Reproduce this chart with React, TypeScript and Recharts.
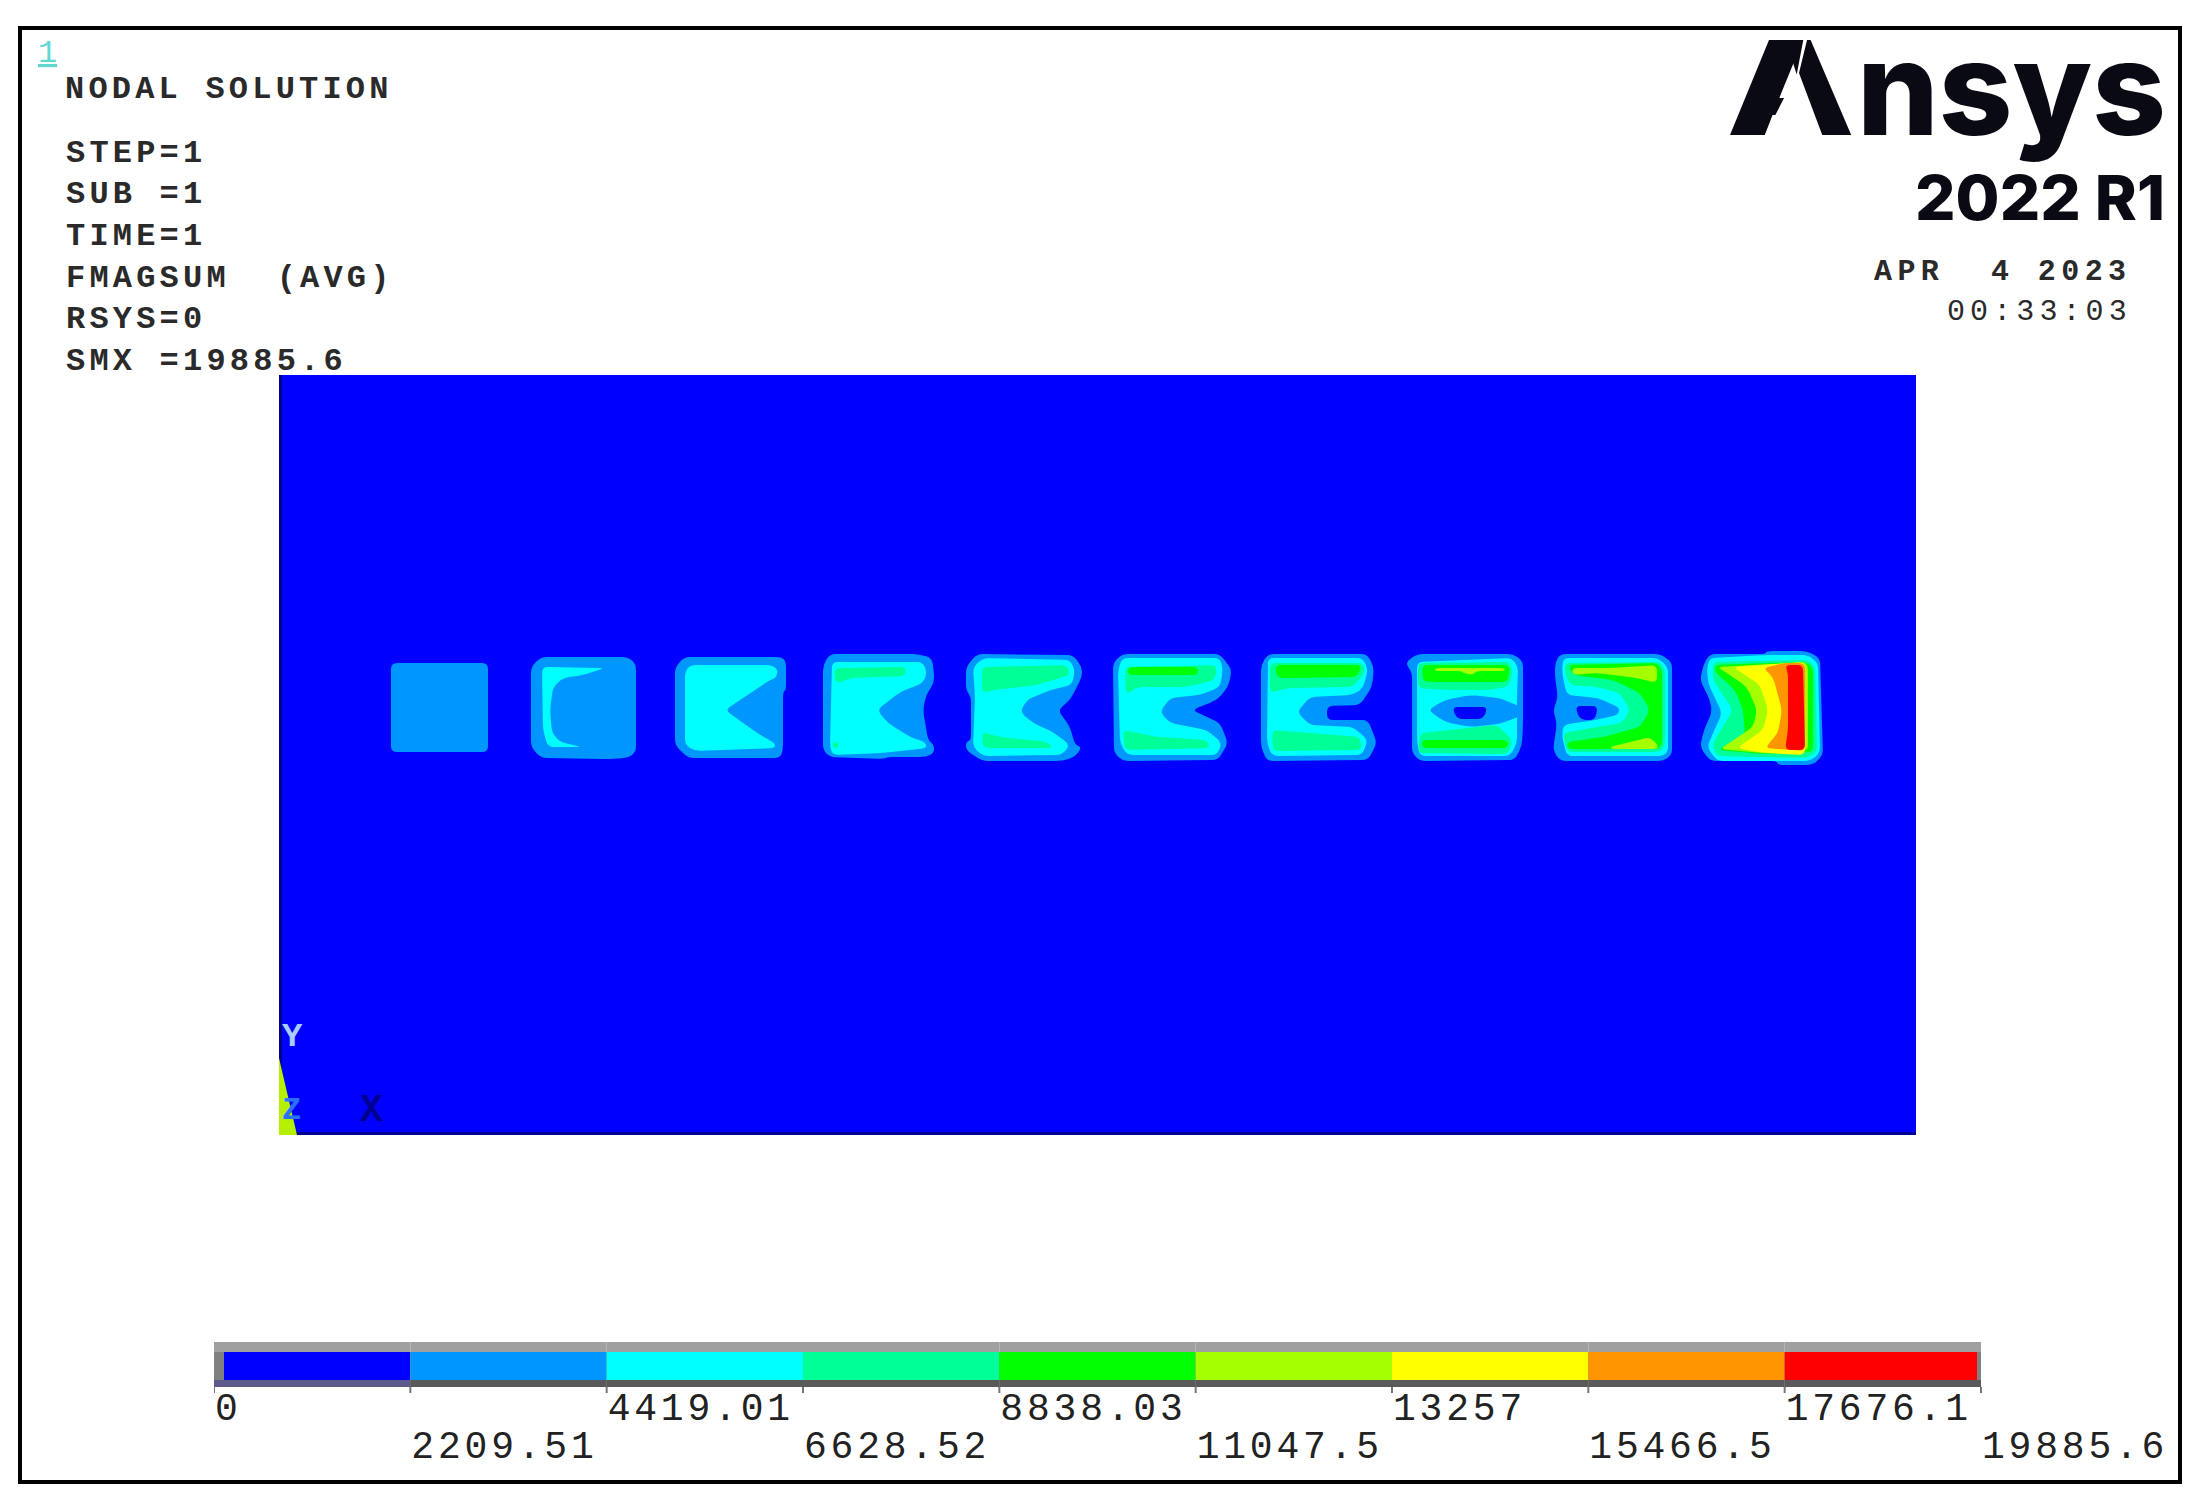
import { BarChart, Bar, XAxis, YAxis, ScatterChart, Scatter, ReferenceArea } from 'recharts';

type Pt = [number, number];
type Contour = { level: number; pts: Pt[] };

const LEVEL_COLORS = ['#0000ff', '#0096ff', '#00ffff', '#00ff96', '#00ff00', '#a6ff00', '#ffff00', '#ff9600', '#ff0000'];
const TICK_VALUES = [0, 2209.51, 4419.01, 6628.52, 8838.03, 11047.5, 13257, 15466.5, 17676.1, 19885.6];
const TICK_LABELS = ['0', '2209.51', '4419.01', '6628.52', '8838.03', '11047.5', '13257', '15466.5', '17676.1', '19885.6'];
const INFO_LINES = ['STEP=1', 'SUB =1', 'TIME=1', 'FMAGSUM  (AVG)', 'RSYS=0', 'SMX =19885.6'];

// plate outline and the contour bands, bottom band first
const PLATE_X = [279, 1916];
const PLATE_Y = [375, 1135];

const TRIAD: Pt[] = [[279, 1058], [297, 1135], [279, 1135]];

const BLOCK_1: Contour[] = [
    { level: 1, pts: [[391, 663], [488, 663], [488, 752], [391, 752]] },
];
const BLOCK_2: Contour[] = [
    { level: 1, pts: [[531, 667], [541, 657], [628, 657], [636, 664], [636, 752], [628, 758], [608, 759], [541, 758], [531, 747]] },
    { level: 2, pts: [[542, 667], [605, 668], [583, 675], [563, 678], [553, 687], [550, 710], [552, 733], [560, 742], [582, 747], [548, 747], [543, 730]] },
];
const BLOCK_3: Contour[] = [
    { level: 1, pts: [[675, 668], [684, 657], [782, 657], [786, 662], [786, 690], [783, 692], [783, 750], [780, 758], [688, 758], [675, 745]] },
    { level: 2, pts: [[685, 672], [690, 665], [772, 665], [778, 670], [776, 678], [770, 680], [725, 710], [760, 735], [775, 743], [775, 748], [695, 751], [685, 745]] },
];
const BLOCK_4: Contour[] = [
    { level: 1, pts: [[823, 665], [830, 654], [918, 654], [932, 658], [934, 673], [934, 683], [926, 695], [923, 710], [928, 740], [934, 745], [934, 753], [926, 757], [888, 757], [884, 759], [830, 757], [823, 750]] },
    { level: 2, pts: [[832, 662], [923, 662], [927, 673], [923, 683], [900, 692], [877, 710], [888, 723], [910, 737], [925, 742], [927, 748], [883, 753], [833, 755], [830, 747]] },
    { level: 3, pts: [[834, 668], [906, 667], [905, 676], [850, 678], [836, 684]] },
    { level: 3, pts: [[833, 742], [838, 742], [838, 748], [833, 748]] },
];
const BLOCK_5: Contour[] = [
    { level: 1, pts: [[977, 654], [1073, 655], [1082, 667], [1082, 677], [1070, 700], [1058, 710], [1070, 727], [1075, 745], [1082, 747], [1075, 757], [1062, 761], [982, 761], [966, 750], [966, 742], [971, 740], [971, 697], [966, 690], [966, 667]] },
    { level: 2, pts: [[983, 658], [1070, 660], [1075, 670], [1072, 685], [1050, 690], [1027, 700], [1020, 712], [1033, 723], [1053, 732], [1070, 745], [1062, 755], [983, 756], [973, 747], [975, 697], [973, 667]] },
    { level: 3, pts: [[982, 667], [1067, 665], [1070, 675], [1037, 685], [993, 690], [982, 693]] },
    { level: 3, pts: [[982, 732], [1000, 737], [1047, 742], [1053, 748], [983, 748]] },
];
const BLOCK_6: Contour[] = [
    { level: 1, pts: [[1113, 663], [1122, 654], [1220, 654], [1232, 670], [1228, 687], [1217, 700], [1192, 710], [1220, 723], [1228, 743], [1218, 760], [1123, 761], [1114, 753]] },
    { level: 2, pts: [[1122, 658], [1220, 658], [1223, 670], [1220, 687], [1200, 695], [1170, 698], [1160, 712], [1170, 723], [1207, 730], [1222, 743], [1217, 755], [1127, 755], [1120, 743], [1118, 670]] },
    { level: 3, pts: [[1125, 667], [1217, 665], [1215, 680], [1187, 687], [1137, 687], [1126, 695]] },
    { level: 3, pts: [[1123, 730], [1157, 737], [1207, 740], [1210, 748], [1125, 750]] },
    { level: 4, pts: [[1128, 667], [1198, 667], [1198, 675], [1128, 675]] },
];
const BLOCK_7: Contour[] = [
    { level: 1, pts: [[1261, 665], [1268, 654], [1367, 654], [1374, 667], [1372, 687], [1360, 705], [1327, 706], [1327, 720], [1368, 720], [1377, 743], [1368, 760], [1267, 761], [1261, 747]] },
    { level: 2, pts: [[1268, 658], [1363, 658], [1368, 670], [1363, 688], [1353, 695], [1310, 697], [1297, 712], [1310, 725], [1353, 727], [1368, 740], [1362, 755], [1272, 756], [1267, 743]] },
    { level: 3, pts: [[1270, 663], [1363, 663], [1365, 672], [1353, 687], [1287, 688], [1270, 693]] },
    { level: 3, pts: [[1272, 730], [1360, 737], [1362, 750], [1273, 751]] },
    { level: 4, pts: [[1275, 665], [1362, 665], [1357, 677], [1277, 678]] },
];
const BLOCK_8: Contour[] = [
    { level: 1, pts: [[1405, 663], [1417, 654], [1513, 654], [1523, 661], [1523, 725], [1522, 745], [1515, 760], [1420, 761], [1412, 753], [1412, 672]] },
    { level: 2, pts: [[1417, 662], [1512, 658], [1518, 667], [1517, 697], [1517, 743], [1510, 756], [1420, 756], [1417, 743]] },
    { level: 3, pts: [[1418, 663], [1510, 662], [1513, 673], [1508, 687], [1487, 690], [1447, 690], [1418, 688]] },
    { level: 3, pts: [[1420, 733], [1497, 725], [1513, 740], [1508, 754], [1418, 753]] },
    { level: 4, pts: [[1422, 665], [1510, 665], [1508, 682], [1423, 682]] },
    { level: 4, pts: [[1422, 740], [1508, 740], [1508, 748], [1422, 748]] },
    { level: 5, pts: [[1435, 668], [1505, 668], [1505, 671], [1476, 671], [1473, 675], [1463, 673], [1462, 671], [1435, 671]] },
    { level: 1, pts: [[1428, 710], [1445, 700], [1470, 695], [1500, 698], [1523, 708], [1523, 715], [1500, 724], [1470, 727], [1445, 722]] },
    { level: 0, pts: [[1452, 707], [1488, 707], [1483, 719], [1457, 719]] },
];
const BLOCK_9: Contour[] = [
    { level: 1, pts: [[1560, 654], [1660, 654], [1672, 662], [1672, 755], [1663, 761], [1560, 761], [1553, 750], [1557, 723], [1553, 710], [1558, 698], [1555, 677], [1555, 663]] },
    { level: 2, pts: [[1563, 658], [1658, 658], [1668, 667], [1668, 752], [1662, 756], [1567, 756], [1562, 737], [1563, 725], [1595, 720], [1618, 715], [1620, 708], [1598, 698], [1567, 695], [1562, 673]] },
    { level: 3, pts: [[1565, 663], [1660, 662], [1665, 670], [1665, 745], [1660, 752], [1567, 752], [1563, 733], [1597, 727], [1622, 723], [1630, 710], [1620, 693], [1597, 687], [1570, 685], [1565, 673]] },
    { level: 4, pts: [[1568, 665], [1657, 663], [1662, 670], [1662, 745], [1657, 749], [1568, 749], [1567, 742], [1603, 737], [1640, 727], [1650, 710], [1640, 693], [1613, 680], [1573, 675]] },
    { level: 5, pts: [[1572, 668], [1613, 668], [1657, 665], [1657, 683], [1637, 678], [1597, 673], [1573, 675]] },
    { level: 5, pts: [[1610, 747], [1650, 737], [1658, 745], [1657, 749], [1612, 749]] },
    { level: 0, pts: [[1575, 706], [1598, 706], [1595, 720], [1580, 720]] },
];
const BLOCK_10: Contour[] = [
    { level: 1, pts: [[1710, 654], [1765, 654], [1767, 651], [1807, 651], [1820, 658], [1823, 755], [1813, 765], [1778, 765], [1777, 761], [1710, 761], [1700, 747], [1704, 730], [1712, 712], [1710, 700], [1700, 680], [1704, 663]] },
    { level: 2, pts: [[1710, 658], [1767, 655], [1808, 655], [1818, 663], [1820, 753], [1810, 761], [1717, 761], [1707, 747], [1722, 713], [1708, 683], [1707, 667]] },
    { level: 3, pts: [[1713, 662], [1808, 660], [1815, 667], [1817, 753], [1805, 758], [1717, 756], [1712, 745], [1733, 710], [1713, 680]] },
    { level: 4, pts: [[1715, 665], [1805, 662], [1813, 667], [1813, 752], [1763, 754], [1718, 750], [1745, 735], [1743, 710], [1735, 690], [1715, 672]] },
    { level: 5, pts: [[1717, 667], [1805, 662], [1808, 667], [1808, 751], [1763, 753], [1720, 749], [1753, 727], [1757, 710], [1747, 687], [1727, 673]] },
    { level: 6, pts: [[1733, 667], [1805, 662], [1805, 755], [1765, 753], [1737, 748], [1763, 730], [1768, 710], [1760, 685]] },
    { level: 7, pts: [[1763, 668], [1785, 663], [1805, 663], [1805, 751], [1765, 748], [1778, 733], [1782, 710], [1773, 677]] },
    { level: 8, pts: [[1785, 665], [1803, 665], [1805, 750], [1785, 750], [1788, 730], [1788, 673]] },
];
const CONTOURS = [...BLOCK_1, ...BLOCK_2, ...BLOCK_3, ...BLOCK_4, ...BLOCK_5, ...BLOCK_6, ...BLOCK_7, ...BLOCK_8, ...BLOCK_9, ...BLOCK_10];

const toXY = (pts: Pt[]) => pts.map(([x, y]) => ({ x, y }));
const noDot = () => <g />;

// closed path with the corners rounded, the contours are soft in the original
function roundedPath(points: { x: number; y: number }[], radius: number) {
    const n = points.length;
    let d = '';
    points.forEach((p, i) => {
        const a = points[(i + n - 1) % n];
        const b = points[(i + 1) % n];
        const la = Math.hypot(a.x - p.x, a.y - p.y) || 1;
        const lb = Math.hypot(b.x - p.x, b.y - p.y) || 1;
        const ra = Math.min(radius, la / 2);
        const rb = Math.min(radius, lb / 2);
        const sx = p.x + ((a.x - p.x) * ra) / la;
        const sy = p.y + ((a.y - p.y) * ra) / la;
        const ex = p.x + ((b.x - p.x) * rb) / lb;
        const ey = p.y + ((b.y - p.y) * rb) / lb;
        d += `${i === 0 ? 'M' : 'L'}${sx},${sy}Q${p.x},${p.y} ${ex},${ey}`;
    });
    return d + 'Z';
}

const polygon = (fill: string, radius = 6) => (props: any) => (
    <path d={roundedPath(props.points, radius)} fill={fill} />
);

const legendRow: Record<string, number> = {};
LEVEL_COLORS.forEach((_, i) => { legendRow[`level${i}`] = TICK_VALUES[i + 1] - TICK_VALUES[i]; });

// bevelled segment of the legend strip
function LegendSegment(props: any) {
    const { x, y, width, height, index } = props;
    const first = index === 0;
    const last = index === LEVEL_COLORS.length - 1;
    const left = first ? 10 : 0;
    const right = last ? 4 : 0;
    return (
        <g>
            <rect x={x} y={y} width={width} height={10} fill="#a0a0a0" />
            <rect x={x} y={y + 10} width={width} height={height - 10} fill="#808080" />
            <rect x={x} y={y + height - 7} width={width} height={7} fill={first ? '#5c5c8c' : '#5a5a5a'} />
            <rect x={x + left} y={y + 10} width={width - left - right} height={height - 17} fill={LEVEL_COLORS[index]} />
        </g>
    );
}

function LegendTick(props: any) {
    const { x, y, index } = props;
    return (
        <text x={x + 1} y={y + (index % 2 === 0 ? 25 : 63)} textAnchor="start" fontFamily="'Liberation Mono', monospace" fontSize={38} letterSpacing={3.8} fill="#222">
            {TICK_LABELS[index]}
        </text>
    );
}

const mono = { fontFamily: "'Liberation Mono', monospace", fill: '#2a2a2a', xmlSpace: 'preserve' as const, style: { whiteSpace: 'pre' as const } };

function Annotations() {
    return (
        <svg width={2199} height={1501} style={{ position: 'absolute', left: 0, top: 0, pointerEvents: 'none' }}>
            <rect x={20} y={28} width={2160} height={1454} fill="none" stroke="#000" strokeWidth={4} />
            <text x={38} y={62} fontFamily="'Liberation Mono', monospace" fontSize={32} fill="#60d8d0" textDecoration="underline">1</text>
            <text x={65} y={98} fontSize={32} fontWeight={700} letterSpacing={4.2} {...mono}>NODAL SOLUTION</text>
            {INFO_LINES.map((line, i) => (
                <text key={line} x={66} y={[162, 203, 245, 287, 328, 370][i]} fontSize={32} fontWeight={700} letterSpacing={4.2} {...mono}>{line}</text>
            ))}
            <text x={1874} y={280} fontSize={30} fontWeight={700} letterSpacing={5.4} {...mono}>APR  4 2023</text>
            <text x={1947} y={320} fontSize={30} letterSpacing={5.1} {...mono}>00:33:03</text>
            <text y={135} fontFamily="Inter" fontWeight={800} fontSize={130} fill="#0a0a14">
                <tspan x={1730} textLength={125} lengthAdjust="spacingAndGlyphs">A</tspan>
                <tspan x={1857} textLength={309} lengthAdjust="spacingAndGlyphs">nsys</tspan>
            </text>
            {/* the logo's A has no crossbar, only a slit */}
            <polygon points="1764,137 1797,73 1804,36 1808,36 1799,73 1823,137" fill="#fff" />
            <polygon points="1730,135 1769,40 1803,40 1764,135" fill="#0a0a14" />
            <text x={1915} y={220} fontFamily="Inter" fontWeight={800} fontSize={62} textLength={250} lengthAdjust="spacingAndGlyphs" fill="#0a0a14">2022 R1</text>
            <text x={282} y={1046} fontFamily="'Liberation Mono', monospace" fontSize={34} fontWeight={700} fill="#a8ccff">Y</text>
            <text x={282} y={1119} fontFamily="'Liberation Mono', monospace" fontSize={32} fontWeight={700} fill="#2a70ff">Z</text>
            <text x={360} y={1121} fontFamily="'Liberation Mono', monospace" fontSize={38} fontWeight={700} fill="#000090">X</text>
        </svg>
    );
}

export default function App() {
    return (
        <div style={{ position: 'absolute', left: 0, top: 0, width: 2199, height: 1501, background: '#fff' }}>
            <div style={{ position: 'absolute', left: PLATE_X[0], top: PLATE_Y[0] }}>
                <ScatterChart width={PLATE_X[1] - PLATE_X[0]} height={PLATE_Y[1] - PLATE_Y[0]} margin={{ top: 0, right: 0, bottom: 0, left: 0 }}>
                    <XAxis type="number" dataKey="x" domain={PLATE_X} hide />
                    <YAxis type="number" dataKey="y" domain={PLATE_Y} reversed hide />
                    <ReferenceArea x1={PLATE_X[0]} x2={PLATE_X[1]} y1={PLATE_Y[0]} y2={PLATE_Y[1]} fill={LEVEL_COLORS[0]} fillOpacity={1} />
                    <ReferenceArea x1={PLATE_X[0]} x2={PLATE_X[0] + 3} y1={PLATE_Y[0]} y2={PLATE_Y[1]} fill="#000090" fillOpacity={1} />
                    <ReferenceArea x1={PLATE_X[0]} x2={PLATE_X[1]} y1={PLATE_Y[1] - 3} y2={PLATE_Y[1]} fill="#000090" fillOpacity={1} />
                    <Scatter data={toXY(TRIAD)} shape={noDot} line={polygon('#b4f000', 0)} isAnimationActive={false} />
                    {CONTOURS.map((c, i) => (
                        <Scatter key={i} data={toXY(c.pts)} shape={noDot} line={polygon(LEVEL_COLORS[c.level])} isAnimationActive={false} />
                    ))}
                </ScatterChart>
            </div>
            <div style={{ position: 'absolute', left: 214, top: 1342 }}>
                <BarChart width={1985} height={130} layout="vertical" data={[legendRow]} barCategoryGap={0} margin={{ top: 0, right: 218, bottom: 0, left: 0 }}>
                    <XAxis type="number" domain={[0, 19885.6]} ticks={TICK_VALUES} interval={0} height={85} axisLine={false} tickLine={{ stroke: '#777', strokeWidth: 2 }} tickSize={6} tickMargin={2} tick={<LegendTick />} />
                    <YAxis type="category" hide />
                    {LEVEL_COLORS.map((_, i) => (
                        <Bar key={i} dataKey={`level${i}`} stackId="legend" isAnimationActive={false} shape={(p: any) => <LegendSegment {...p} index={i} />} />
                    ))}
                </BarChart>
            </div>
            <Annotations />
        </div>
    );
}
